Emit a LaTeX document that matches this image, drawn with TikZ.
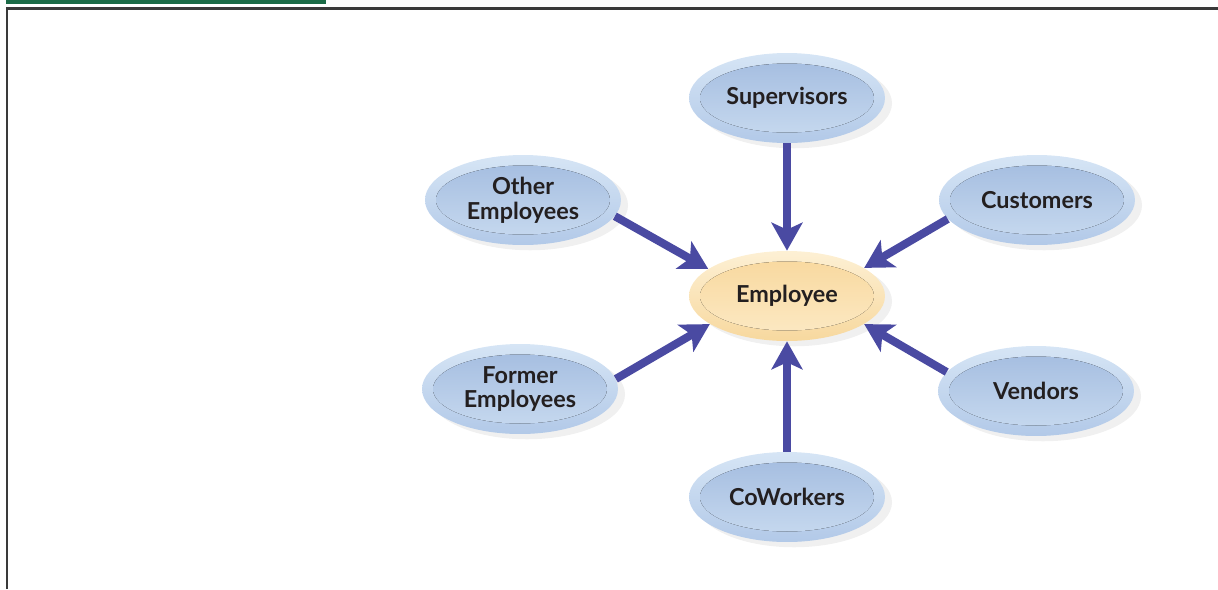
\documentclass[tikz,border=0pt]{standalone}
\usepackage{fontspec}
\setmainfont{Lato}
\usetikzlibrary{shapes.geometric,arrows.meta,shadows}

\definecolor{barGreen}{HTML}{1B6B47}
\definecolor{frameGray}{HTML}{3A3A3A}
\definecolor{arrowBlue}{HTML}{4A4AA2}
\definecolor{textDark}{HTML}{231F20}
\definecolor{blueTop}{HTML}{D6E5F5}
\definecolor{blueBot}{HTML}{B2C9E8}
\definecolor{blueInTop}{HTML}{A2BBDF}
\definecolor{blueInBot}{HTML}{C9DBF0}
\definecolor{sandTop}{HTML}{FDF0D4}
\definecolor{sandBot}{HTML}{F7D89E}
\definecolor{sandInTop}{HTML}{F8D79B}
\definecolor{sandInBot}{HTML}{FCEAC6}

\tikzset{
  bubble/.style={ellipse,minimum width=3.92cm,minimum height=1.8cm,inner sep=0pt,
    align=center,text=textDark,font=\fontsize{13.3}{14}\selectfont\bfseries,
    drop shadow={opacity=0.12,shadow xshift=4pt,shadow yshift=-3pt},
    top color=blueTop,bottom color=blueBot,
    path picture={\fill[top color=blueInTop,bottom color=blueInBot]
      (path picture bounding box.center) ellipse (1.74cm and 0.69cm);}},
  hub/.style={bubble,top color=sandTop,bottom color=sandBot,
    path picture={\fill[top color=sandInTop,bottom color=sandInBot]
      (path picture bounding box.center) ellipse (1.74cm and 0.69cm);}},
  feed/.style={draw=arrowBlue,line width=4.6pt,
    -{Stealth[length=0.56cm,width=0.62cm,inset=0.14cm]}},
}

\begin{document}
\begin{tikzpicture}[x=0.02cm,y=-0.02cm]
  \useasboundingbox (0,0) rectangle (1218,589);
  % header bar and frame
  \fill[barGreen] (6,0) rectangle (326,3.5);
  \draw[frameGray,line width=1.3pt] (7,589) -- (7,8.5) -- (1218,8.5);

  % the employee and the people around
  \node[hub]    (emp) at (787,296) {Employee};
  \node[bubble] (sup) at (787,98)  {Supervisors};
  \node[bubble] (oth) at (523,200) {Other\\Employees};
  \node[bubble] (cus) at (1037,200) {Customers};
  \node[bubble] (frm) at (520,389) {Former\\Employees};
  \node[bubble] (ven) at (1036,391) {Vendors};
  \node[bubble] (cow) at (787,497) {CoWorkers};

  % arrows into the employee
  \foreach \src/\from/\to in {sup/270/90, oth/-10/161, cus/192/20,
                              frm/6/200, ven/168/-20, cow/90/270} {
    \draw[feed] (\src.\from) -- (emp.\to);
  }
\end{tikzpicture}
\end{document}
